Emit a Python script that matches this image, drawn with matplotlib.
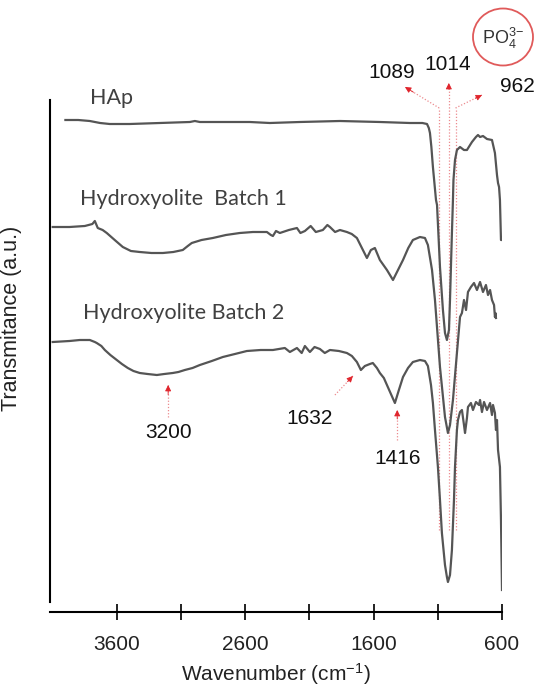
import matplotlib
matplotlib.use("Agg")
import matplotlib.pyplot as plt
from matplotlib.patches import Ellipse

plt.rcParams['font.family'] = ['Liberation Sans', 'DejaVu Sans']
plt.rcParams['mathtext.default'] = 'regular'

# FTIR spectra (wavenumber in cm-1, transmittance in arbitrary offset units)
hap_wn = [4000, 3900, 3810, 3730, 3655, 3499, 3265, 3031, 2992, 2953, 2564, 2408, 2174,
          1862, 1551, 1317, 1220, 1184, 1170, 1161, 1150, 1138, 1114, 1106, 1083, 1060,
          1044, 1029, 1013, 1005, 990, 982, 978, 966, 951, 927, 896, 873, 834, 803,
          787, 771, 748, 717, 678, 655, 639, 631, 623, 616, 608, 600]
hap_t = [482, 482, 481, 479, 478, 478, 479, 480, 481, 480, 480, 479, 480,
         481, 480, 479, 479, 478, 474, 469, 455, 435, 402, 397, 335, 292,
         269, 262, 272, 302, 369, 402, 422, 442, 452, 455, 452, 452, 460, 465,
         467, 465, 466, 463, 462, 449, 427, 419, 415, 402, 362, 362]

batch1_wn = [4099, 3968, 3849, 3790, 3771, 3748, 3710, 3678, 3616, 3553, 3490, 3421,
             3330, 3241, 3160, 3086, 3047, 3016, 2940, 2852, 2750, 2642, 2540, 2431,
             2400, 2384, 2360, 2330, 2260, 2197, 2170, 2135, 2090, 2050, 1995, 1960,
             1940, 1900, 1862, 1808, 1770, 1730, 1691, 1652, 1621, 1590, 1551, 1496,
             1449, 1410, 1371, 1330, 1294, 1239, 1200, 1177, 1145, 1122, 1083, 1044,
             1021, 1005, 982, 951, 927, 912, 896, 880, 865, 842, 818, 795, 771, 748,
             725, 709, 693, 678, 662, 655, 651, 647]
batch1_t = [375, 375, 376, 378, 381, 374, 372, 369, 362, 355, 351, 350,
            349, 349, 350, 352, 356, 359, 362, 364, 367, 369, 370, 370,
            367, 366, 371, 369, 372, 374, 369, 371, 376, 370, 372, 377,
            375, 370, 372, 370, 368, 364, 354, 344, 352, 354, 342, 332,
            322, 332, 342, 354, 362, 365, 364, 357, 332, 302, 235, 185,
            169, 177, 202, 249, 285, 289, 302, 292, 310, 315, 319, 312, 320, 310,
            317, 307, 312, 302, 297, 285, 289, 284]

batch2_wn = [4099, 3968, 3888, 3810, 3771, 3756, 3720, 3693, 3650, 3600, 3560, 3514,
             3470, 3421, 3360, 3288, 3230, 3164, 3120, 3070, 3010, 2953, 2860, 2774,
             2680, 2587, 2480, 2384, 2291, 2252, 2197, 2160, 2135, 2096, 2060, 2018,
             1980, 1940, 1870, 1808, 1769, 1730, 1699, 1668, 1629, 1606, 1574, 1551,
             1520, 1496, 1465, 1434, 1403, 1371, 1332, 1294, 1239, 1200, 1177, 1153,
             1138, 1122, 1099, 1083, 1068, 1044, 1029, 1021, 1005, 990, 974, 966, 951,
             943, 927, 912, 896, 888, 873, 865, 842, 826, 803, 779, 771, 756, 740, 717,
             693, 678, 670, 655, 647, 639, 631, 616, 608, 600]
batch2_t = [260, 261, 262, 262, 260, 259, 256, 252, 247, 242, 238, 234,
            231, 229, 228, 227, 228, 229, 230, 232, 234, 237, 241, 245,
            248, 251, 252, 252, 254, 250, 254, 249, 256, 250, 255, 253,
            249, 252, 251, 249, 246, 240, 232, 236, 238, 239, 234, 229,
            224, 217, 208, 199, 212, 225, 234, 240, 242, 241, 236, 217,
            199, 172, 135, 102, 69, 37, 25, 20, 27, 52, 102, 135, 172,
            182, 190, 192, 177, 169, 184, 195, 199, 192, 200, 197, 202, 190, 200, 192,
            199, 187, 197, 189, 172, 182, 152, 135, 82, 12]

series_names = ["HAp", "Hydroxyolite  Batch 1", "Hydroxyolite Batch 2"]

# band assignments
po4_bands = [1089, 1014, 962]
oh_band, water_band, co3_band = 3200, 1632, 1416

xticks_major = [3600, 2600, 1600, 600]
xticks_minor = [3100, 2100, 1100]

RED = "#e0242c"
PINK = "#ec8a8e"
LINE = "#555555"

fig = plt.figure(figsize=(5.40, 6.89), dpi=100)
ax = fig.add_axes([50 / 540, 87 / 689, 452 / 540, 502 / 689])
ax.set_xlim(4120, 600)
ax.set_ylim(0, 502)

# dotted guide lines for the phosphate bands (drawn under the spectra)
for wn in po4_bands:
    ax.plot([wn, wn], [72, 494], ls=(0, (1, 1.5)), lw=0.9, color=PINK, zorder=1, clip_on=False)

for wn, t in [(hap_wn, hap_t), (batch1_wn, batch1_t), (batch2_wn, batch2_t)]:
    ax.plot(wn, t, color=LINE, lw=1.6, zorder=2, solid_joinstyle="round")

# fan of pointers above the phosphate bands
fan = [(1089, 494, 1356, 515), (1014, 494, 1014, 519), (962, 494, 756, 507)]
for x0, y0, x1, y1 in fan:
    ax.plot([x0, x1], [y0, y1], ls=(0, (1, 1.5)), lw=0.9, color=PINK, clip_on=False, zorder=1)
    ax.annotate("", xy=(x1, y1), xytext=(x1 + (x0 - x1) * 0.25, y1 + (y0 - y1) * 0.25),
                arrowprops=dict(arrowstyle="-|>", color=RED, lw=0.6, mutation_scale=9,
                                shrinkA=0, shrinkB=0), annotation_clip=False)

lab_kw = dict(fontsize=15, color="#111111", ha="center", va="center")
ax.text(1457, 530, str(po4_bands[0]), **lab_kw)
ax.text(1021, 537, str(po4_bands[1]), **lab_kw)
ax.text(483, 515, str(po4_bands[2]), **lab_kw)


def pointer(x0, y0, x1, y1):
    ax.plot([x0, x1], [y0, y1], ls=(0, (1, 1.5)), lw=0.9, color=PINK, zorder=1)
    ax.annotate("", xy=(x1, y1), xytext=(x1 + (x0 - x1) * 0.3, y1 + (y0 - y1) * 0.3),
                arrowprops=dict(arrowstyle="-|>", color=RED, lw=0.6, mutation_scale=9,
                                shrinkA=0, shrinkB=0))


pointer(oh_band, 185, oh_band, 217)
ax.text(oh_band, 170, str(oh_band), **lab_kw)
pointer(1901, 207, 1761, 226)
ax.text(2095, 184, str(water_band), **lab_kw)
pointer(co3_band, 162, co3_band, 192)
ax.text(co3_band, 144, str(co3_band), **lab_kw)

# phosphate tag
fig.text(503 / 540, 1 - 38 / 689, r"PO$_4^{3\!-}$", fontsize=13, color="#333333",
         ha="center", va="center")
fig.add_artist(Ellipse((503 / 540, 1 - 37 / 689), 60 / 540, 57 / 689,
                       transform=fig.transFigure, fill=False, ec="#e05a5a", lw=1.3))

# series names
name_kw = dict(fontsize=15.5, color="#404040", ha="left", va="center", family=["Lato", "DejaVu Sans"])
ax.text(3810, 504, series_names[0], **name_kw)
ax.text(3888, 403, series_names[1], **name_kw)
ax.text(3865, 289, series_names[2], **name_kw)

# axes styling
for s in ("top", "right"):
    ax.spines[s].set_visible(False)
ax.spines["left"].set_linewidth(1.5)
ax.spines["bottom"].set_linewidth(1.5)
ax.spines["bottom"].set_position(("outward", 7.5))
ax.set_yticks([])
ax.set_xticks(xticks_major)
ax.set_xticklabels([str(v) for v in xticks_major])
ax.set_xticks(xticks_minor, minor=True)
ax.tick_params(axis="x", which="both", direction="inout", length=11, width=1.4,
               labelsize=15, pad=11, colors="#222222", labelcolor="#222222")
ax.set_xlabel(r"Wavenumber (cm$^{-1}$)", fontsize=15, color="#222222", labelpad=5)
ax.set_ylabel("Transmitance (a.u.)", fontsize=15.5, color="#222222", labelpad=10)
ax.yaxis.set_label_coords(-28 / 452, (602 - 318) / 502)

fig.savefig("out.png", dpi=100)
